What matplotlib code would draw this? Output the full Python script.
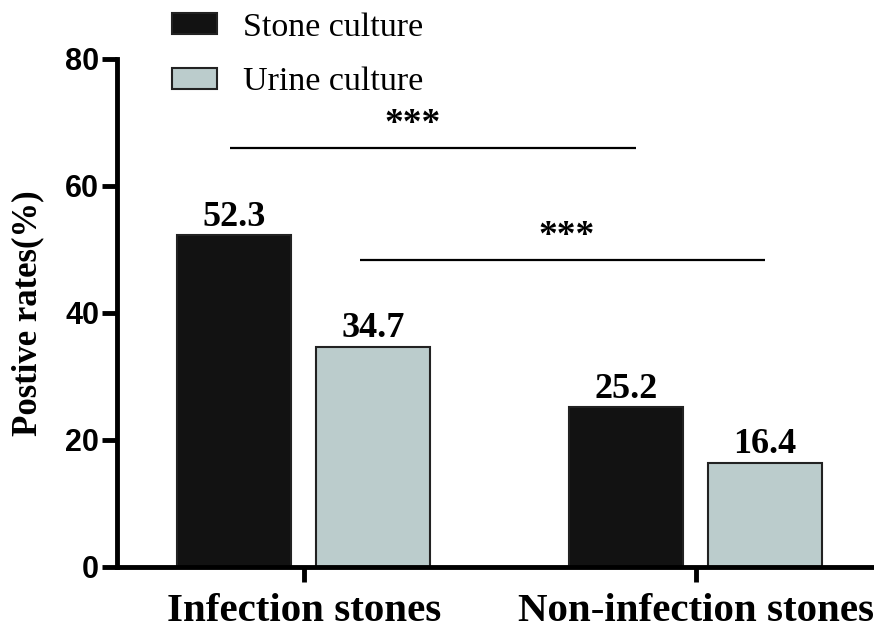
import numpy as np
import matplotlib.pyplot as plt

categories = ["Infection stones", "Non-infection stones"]
series = ["Stone culture", "Urine culture"]
stone = [52.3, 25.2]
urine = [34.7, 16.4]
colors = ["#121212", "#bbcccc"]
yticks = [0, 20, 40, 60, 80]
sig_label = "***"

serif = "Liberation Serif"
sans = "Liberation Sans"

fig = plt.figure(figsize=(8.74, 6.34), dpi=100)
ax = fig.add_axes([0.134, 0.106, 0.866, 0.801])

x = np.arange(len(categories))
w = 0.29
off = 0.177
for vals, dx, c, lab in [(stone, -off, colors[0], series[0]), (urine, off, colors[1], series[1])]:
    bars = ax.bar(x + dx, vals, w, color=c, edgecolor="#222222", linewidth=1.5, label=lab)
    for b, v in zip(bars, vals):
        ax.text(b.get_x() + b.get_width() / 2, v + 0.2, f"{v}", ha="center", va="bottom",
                family=serif, fontweight="bold", fontsize=26)

# significance lines
for (x0, x1, y, tx) in [(-0.1875, 0.848, 66.0, 0.277), (0.144, 1.176, 48.3, 0.67)]:
    ax.plot([x0, x1], [y, y], color="black", lw=1.6, solid_capstyle="butt", clip_on=False)
    ax.text(tx, y + 0.9, sig_label, ha="center", va="bottom", family=serif,
            fontweight="bold", fontsize=27)

ax.set_xlim(-0.476, 1.455)
ax.set_ylim(0, 80)
ax.set_yticks(yticks)
ax.set_yticklabels([str(t) for t in yticks], family=sans, fontweight="bold", fontsize=22)
ax.set_xticks(x)
ax.set_xticklabels(categories, family=serif, fontweight="bold", fontsize=29.5)
ax.tick_params(axis="both", width=3.5, length=11, direction="out")
ax.tick_params(axis="y", pad=2)
ax.tick_params(axis="x", pad=8)
for s in ["top", "right"]:
    ax.spines[s].set_visible(False)
for s in ["left", "bottom"]:
    ax.spines[s].set_linewidth(3.5)
ax.set_ylabel("Postive rates(%)", family=serif, fontweight="bold", fontsize=25, labelpad=15)

leg = fig.legend(loc="upper left", bbox_to_anchor=(172 / 874, 1 - 12 / 634), frameon=False,
                 borderpad=0, borderaxespad=0,
                 prop={"family": serif, "size": 24.5}, handlelength=1.32, handleheight=0.6,
                 labelspacing=0.72, handletextpad=0.76)
for p in leg.get_patches():
    p.set_edgecolor("#222222")
    p.set_linewidth(1.5)

fig.savefig("out.png", dpi=100)
